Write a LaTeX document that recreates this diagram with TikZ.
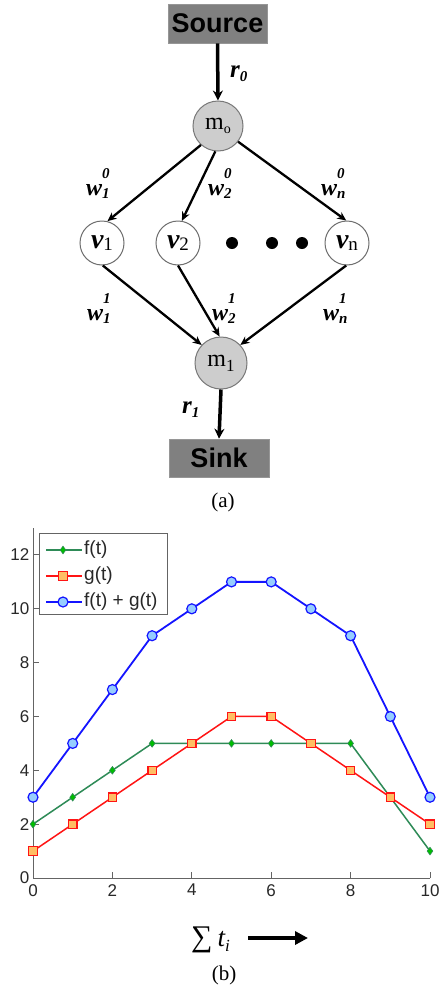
\documentclass[tikz,border=0pt]{standalone}
\usepackage{fontspec}
\setmainfont{Liberation Serif}
\newfontfamily\arialf{Liberation Sans}
\usetikzlibrary{arrows.meta,plotmarks}
\definecolor{boxgray}{RGB}{128,128,128}
\definecolor{boxedge}{RGB}{150,150,150}
\definecolor{mgray}{RGB}{205,205,205}
\definecolor{mgrayedge}{RGB}{120,120,120}
\definecolor{vedge}{RGB}{110,110,110}
\definecolor{fgreen}{RGB}{46,139,87}
\definecolor{fmark}{RGB}{0,190,0}
\definecolor{gred}{RGB}{255,20,20}
\definecolor{gfill}{RGB}{255,190,100}
\definecolor{sblue}{RGB}{20,20,255}
\definecolor{sfill}{RGB}{150,205,255}
\definecolor{axgray}{RGB}{100,100,100}
\definecolor{ticktext}{RGB}{40,40,40}
\newcommand\wlab[2]{{\bfseries\itshape\fontsize{24}{24}\selectfont w\rlap{\raisebox{17pt}{\fontsize{15}{15}\selectfont #2}}\raisebox{-3pt}{\fontsize{15}{15}\selectfont #1}}}
\newcommand\rlab[1]{{\bfseries\itshape\fontsize{25}{25}\selectfont r\raisebox{-4pt}{\fontsize{15}{15}\selectfont #1}}}
\begin{document}
\begin{tikzpicture}[x=1pt,y=-1pt,
  boxnode/.style={fill=boxgray, draw=boxedge, line width=0.6pt, minimum width=99pt, minimum height=39pt, inner sep=0pt, font=\arialf\bfseries\fontsize{27}{27}\selectfont},
  mnode/.style={circle, fill=mgray, draw=mgrayedge, line width=1pt, minimum size=50pt, inner sep=0pt},
  vnode/.style={circle, fill=white, draw=vedge, line width=1pt, minimum size=44pt, inner sep=0pt},
  dotnode/.style={circle, fill=black, minimum size=12pt, inner sep=0pt},
  edgearrow/.style={line width=2.3pt, -{Stealth[length=9pt,width=8pt]}},
  thickarrow/.style={line width=3.5pt, -{Stealth[length=10pt,width=10pt]}},
  lab/.style={inner sep=0pt, anchor=base west},
  caption/.style={font=\fontsize{21}{21}\selectfont, inner sep=0pt},
  axis/.style={draw=axgray, line width=1pt},
  ticklab/.style={font=\arialf\fontsize{17}{17}\selectfont, text=ticktext, inner sep=0pt},
  legtext/.style={font=\arialf\fontsize{19}{19}\selectfont, text=ticktext, inner sep=0pt, anchor=west},
  fline/.style={color=fgreen, line width=1.5pt, mark=diamond*, mark size=3.8pt, mark options={fill=fmark, draw=fgreen, line width=0.6pt}},
  gline/.style={color=gred, line width=1.5pt, mark=square*, mark size=4.2pt, mark options={fill=gfill, draw=gred, line width=1.2pt}},
  sline/.style={color=sblue, line width=1.8pt, mark=*, mark size=5pt, mark options={fill=sfill, draw=sblue, line width=1.2pt}}
]
\useasboundingbox (0,0) rectangle (439,988);
\fill[white] (0,0) rectangle (439,988);
% ---------- (a) ----------
\node[boxnode] (src) at (217.5,23.5) {Source};
\node[mnode] (m0) at (218,126) {\fontsize{24}{24}\selectfont m\raisebox{-0.15em}{\fontsize{14}{14}\selectfont o}};
\node[vnode] (v1) at (102,243) {{\bfseries\itshape\fontsize{28}{28}\selectfont v}\raisebox{-0.2em}{\fontsize{19}{19}\selectfont 1}};
\node[vnode] (v2) at (178,243) {{\bfseries\itshape\fontsize{28}{28}\selectfont v}\raisebox{-0.2em}{\fontsize{19}{19}\selectfont 2}};
\node[vnode] (vn) at (347,243) {{\bfseries\itshape\fontsize{28}{28}\selectfont v}\raisebox{-0.2em}{\fontsize{19}{19}\selectfont n}};
\node[dotnode] (d1) at (232,243) {};
\node[dotnode] (d2) at (272,243) {};
\node[dotnode] (d3) at (302,243) {};
\node[mnode, minimum size=52pt] (m1) at (221,363) {\fontsize{24}{24}\selectfont m\raisebox{-0.2em}{\fontsize{17}{17}\selectfont 1}};
\node[boxnode, minimum width=100pt, minimum height=38pt] (sink) at (219,458) {Sink};

\draw[thickarrow] (src.south) -- (m0.north);
\draw[edgearrow] (m0.228) -- (v1.76);
\draw[edgearrow] (m0.264) -- (v2.80);
\draw[edgearrow] (m0.322) -- (vn.92);
\draw[edgearrow] (v1.272) -- (m1.137);
\draw[edgearrow] (v2.270) -- (m1.93);
\draw[edgearrow] (vn.268) -- (m1.43);
\draw[thickarrow] (m1.south) -- (sink.north);

\node[lab] (r0) at (230,77) {\rlab{0}};
\node[lab] (r1) at (182,413) {\rlab{1}};
\node[lab] (w10) at (86,195) {\wlab{1}{0}};
\node[lab] (w20) at (208,195) {\wlab{2}{0}};
\node[lab] (wn0) at (321,195) {\wlab{n}{0}};
\node[lab] (w11) at (87,320) {\wlab{1}{1}};
\node[lab] (w21) at (212,320) {\wlab{2}{1}};
\node[lab] (wn1) at (323,320) {\wlab{n}{1}};
\node[caption] (capa) at (223,502) {(a)};
% ---------- (b) ----------
\begin{scope}[shift={(33,878)}, x=39.7pt, y=26.92pt]
  \draw[axis] (0,13) -- (0,0) -- (10,0);
  \foreach \i in {0,2,...,10} {
    \draw[axis] (\i,0) -- ++(0,0.22);
    \node[ticklab, anchor=north] at (\i,-0.22) {\i};
  }
  \foreach \j in {0,2,...,12} {
    \draw[axis] (0,\j) -- ++(0.15,0);
    \node[ticklab, anchor=east] at (-0.09,\j) {\j};
  }
  \draw[fline] plot coordinates {(0,2) (1,3) (2,4) (3,5) (4,5) (5,5) (6,5) (7,5) (8,5) (9,3) (10,1)};
  \draw[gline] plot coordinates {(0,1) (1,2) (2,3) (3,4) (4,5) (5,6) (6,6) (7,5) (8,4) (9,3) (10,2)};
  \draw[sline] plot coordinates {(0,3) (1,5) (2,7) (3,9) (4,10) (5,11) (6,11) (7,10) (8,9) (9,6) (10,3)};
\end{scope}
% legend
\draw[draw=axgray, line width=1pt, fill=white] (39,533) rectangle (167,614);
\draw[fline, mark=none] plot coordinates {(46,550) (82,550)};
\draw[fline, only marks] plot coordinates {(63,550)};
\draw[gline, mark=none] plot coordinates {(46,576) (82,576)};
\draw[gline, only marks] plot coordinates {(63,576)};
\draw[sline, mark=none] plot coordinates {(46,602) (82,602)};
\draw[sline, only marks] plot coordinates {(63,602)};
\node[legtext] (lf) at (84,550) {f(t)};
\node[legtext] (lg) at (84,576) {g(t)};
\node[legtext] (ls) at (84,602) {f(t) + g(t)};
% axis label
\node[inner sep=0pt, anchor=base west] (xlab) at (191,946) {{\fontsize{30}{30}\selectfont ∑}\hspace{5pt}{\itshape\fontsize{27}{27}\selectfont t\raisebox{-5pt}{\fontsize{17}{17}\selectfont i}}};
\coordinate (xa1) at (248,938);
\coordinate (xa2) at (308,938);
\draw[line width=4.5pt, -{Triangle[length=13pt,width=13pt]}] (xa1) -- (xa2);
\node[caption] (capb) at (224,975) {(b)};
\end{tikzpicture}
\end{document}
